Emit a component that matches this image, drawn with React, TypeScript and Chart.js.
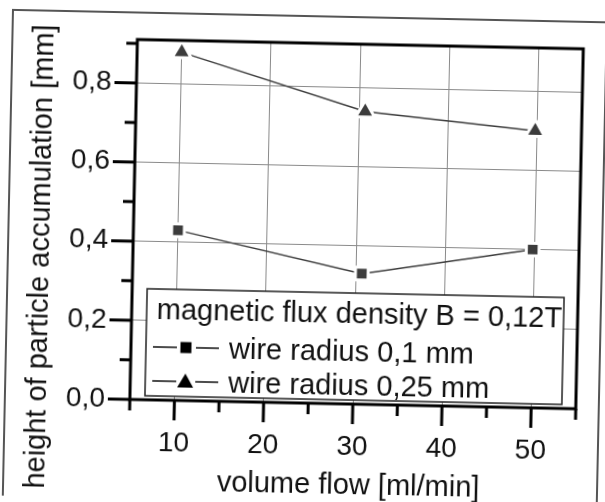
import React, { useEffect, useRef } from 'react';
import { Chart, registerables } from 'chart.js';
Chart.register(...registerables);

// ---- data ----
const volumeFlow = [10, 30.7, 49.8];
const wireRadius01 = [0.43, 0.33, 0.4];
const wireRadius025 = [0.88, 0.74, 0.7];
const seriesLabels = ['wire radius 0,1 mm', 'wire radius 0,25 mm'];
const legendTitle = 'magnetic flux density B = 0,12T';
const xTitle = 'volume flow [ml/min]';
const yTitle = 'height of particle accumulation [mm]';
const xTickValues = [5, 10, 15, 20, 25, 30, 35, 40, 45, 50, 55];
const xTickLabels = ['', '10', '', '20', '', '30', '', '40', '', '50', ''];
const yTickValues = [0, 0.1, 0.2, 0.3, 0.4, 0.5, 0.6, 0.7, 0.8, 0.9];
const yTickLabels = ['0,0', '', '0,2', '', '0,4', '', '0,6', '', '0,8', ''];

const FONT = '"Liberation Sans", Arial, sans-serif';
const MARK = '#3c3c3c';

const decorPlugin = {
  id: 'decor',
  beforeDraw(chart: any) {
    const { ctx } = chart;
    ctx.save();
    ctx.fillStyle = '#fff';
    ctx.fillRect(0, 0, chart.width, chart.height);
    // scanned page frame
    ctx.strokeStyle = '#555';
    ctx.lineWidth = 2;
    ctx.beginPath();
    ctx.moveTo(8, chart.height + 20);
    ctx.lineTo(8, 16);
    ctx.lineTo(602, 16);
    ctx.lineTo(602, chart.height + 20);
    ctx.stroke();
    ctx.restore();
  },
  afterDraw(chart: any) {
    const { ctx, chartArea: a } = chart;
    const x = chart.scales.x;
    const y = chart.scales.y;
    ctx.save();
    ctx.strokeStyle = '#000';
    ctx.lineWidth = 3;
    ctx.lineCap = 'butt';
    // ticks
    xTickValues.forEach((v, i) => {
      const px = x.getPixelForValue(v);
      const len = xTickLabels[i] ? 20 : 11;
      ctx.beginPath();
      ctx.moveTo(px, a.bottom);
      ctx.lineTo(px, a.bottom + len);
      ctx.stroke();
    });
    yTickValues.forEach((v, i) => {
      const py = y.getPixelForValue(v);
      const len = yTickLabels[i] ? 22 : 11;
      ctx.beginPath();
      ctx.moveTo(a.left, py);
      ctx.lineTo(a.left - len, py);
      ctx.stroke();
    });
    // frame box
    ctx.strokeRect(a.left, a.top, a.right - a.left, a.bottom - a.top);

    // legend box
    const lx = a.left + 15;
    const lr = a.right - 14;
    const ly = a.top + 249;
    const lb = a.bottom - 4;
    ctx.fillStyle = '#fff';
    ctx.fillRect(lx, ly, lr - lx, lb - ly);
    ctx.strokeStyle = '#222';
    ctx.lineWidth = 1.5;
    ctx.strokeRect(lx, ly, lr - lx, lb - ly);
    ctx.fillStyle = '#111';
    ctx.font = `29px ${FONT}`;
    ctx.textAlign = 'left';
    ctx.textBaseline = 'alphabetic';
    ctx.fillText(legendTitle, lx + 10, ly + 30);
    const rows = [ly + 68, ly + 102];
    rows.forEach((base, i) => {
      const cy = base - 10;
      ctx.strokeStyle = '#111';
      ctx.lineWidth = 1.5;
      ctx.beginPath();
      ctx.moveTo(lx + 7, cy);
      ctx.lineTo(lx + 31, cy);
      ctx.moveTo(lx + 50, cy);
      ctx.lineTo(lx + 73, cy);
      ctx.stroke();
      ctx.fillStyle = '#000';
      const mx = lx + 40;
      if (i === 0) {
        ctx.fillRect(mx - 5.5, cy - 5.5, 11, 11);
      } else {
        ctx.beginPath();
        ctx.moveTo(mx, cy - 8);
        ctx.lineTo(mx + 8, cy + 6);
        ctx.lineTo(mx - 8, cy + 6);
        ctx.closePath();
        ctx.fill();
      }
      ctx.fillStyle = '#111';
      ctx.fillText(seriesLabels[i], lx + 83, base);
    });

    // axis titles
    ctx.fillStyle = '#111';
    ctx.font = `29px ${FONT}`;
    ctx.textAlign = 'center';
    ctx.textBaseline = 'alphabetic';
    ctx.fillText(xTitle, (a.left + a.right) / 2 - 3, 493);
    ctx.translate(49, 262);
    ctx.rotate(-Math.PI / 2);
    ctx.fillText(yTitle, 0, 0);
    ctx.restore();
  },
};

export default function App() {
  const ref = useRef<HTMLCanvasElement>(null);
  useEffect(() => {
    document.body.style.margin = '0';
    const chart = new Chart(ref.current as HTMLCanvasElement, {
      type: 'line',
      data: {
        datasets: [
          {
            label: seriesLabels[0],
            data: volumeFlow.map((v, i) => ({ x: v, y: wireRadius01[i] })),
            borderColor: MARK,
            borderWidth: 1.5,
            pointStyle: 'rect',
            pointRadius: 9,
            pointBackgroundColor: MARK,
            pointBorderColor: '#fff',
            pointBorderWidth: 3,
            fill: false,
          },
          {
            label: seriesLabels[1],
            data: volumeFlow.map((v, i) => ({ x: v, y: wireRadius025[i] })),
            borderColor: MARK,
            borderWidth: 1.5,
            pointStyle: 'triangle',
            pointRadius: 11,
            pointBackgroundColor: MARK,
            pointBorderColor: '#fff',
            pointBorderWidth: 3,
            fill: false,
          },
        ],
      },
      options: {
        animation: false,
        responsive: false,
        events: [],
        layout: { padding: { top: 43, right: 22, left: 0, bottom: 0 } },
        plugins: { legend: { display: false }, tooltip: { enabled: false } },
        scales: {
          x: {
            type: 'linear',
            min: 5,
            max: 55,
            afterBuildTicks: (s: any) => {
              s.ticks = xTickValues.map((v) => ({ value: v }));
            },
            afterFit: (s: any) => {
              s.height = 99;
            },
            ticks: {
              autoSkip: false,
              maxRotation: 0,
              padding: 26,
              color: '#111',
              font: { family: FONT, size: 28 },
              callback: (v: any) => xTickLabels[xTickValues.indexOf(Number(v))] ?? '',
            },
            grid: {
              drawTicks: false,
              lineWidth: 1,
              color: (c: any) => {
                const i = xTickValues.indexOf(c.tick?.value);
                return i > 0 && xTickLabels[i] ? '#8a8a8a' : 'rgba(0,0,0,0)';
              },
            },
            border: { display: false },
          },
          y: {
            type: 'linear',
            min: 0,
            max: 0.91,
            afterBuildTicks: (s: any) => {
              s.ticks = yTickValues.map((v) => ({ value: v }));
            },
            afterFit: (s: any) => {
              s.width = 133;
            },
            ticks: {
              autoSkip: false,
              padding: 25,
              color: '#111',
              font: { family: FONT, size: 28 },
              callback: (v: any) => {
                const i = yTickValues.findIndex((t) => Math.abs(t - Number(v)) < 1e-6);
                return i >= 0 ? yTickLabels[i] : '';
              },
            },
            grid: {
              drawTicks: false,
              lineWidth: 1,
              color: (c: any) => {
                const i = yTickValues.findIndex((t) => Math.abs(t - c.tick?.value) < 1e-6);
                return i > 0 && yTickLabels[i] ? '#8a8a8a' : 'rgba(0,0,0,0)';
              },
            },
            border: { display: false },
          },
        },
      },
      plugins: [decorPlugin],
    });
    return () => chart.destroy();
  }, []);
  return (
    <div style={{ width: 605, height: 502, position: 'relative', overflow: 'hidden', background: '#fff' }}>
      <canvas
        ref={ref}
        width={605}
        height={502}
        style={{ display: 'block', transform: 'rotate(1.2deg)', transformOrigin: '302px 251px' }}
      />
    </div>
  );
}
